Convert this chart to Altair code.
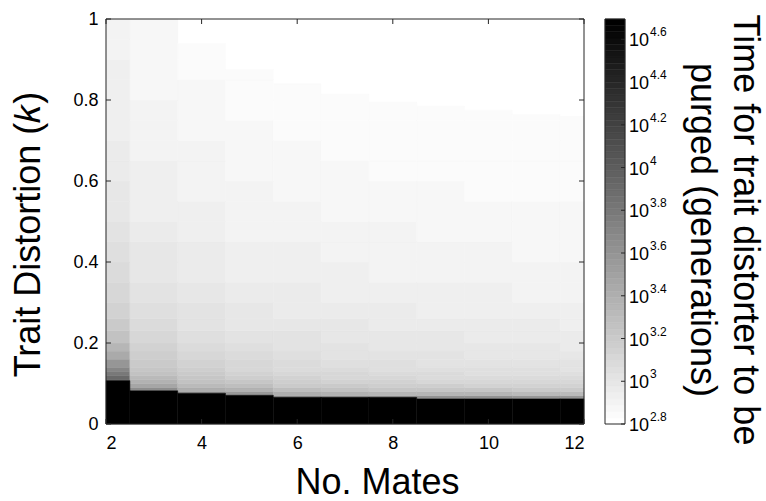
import altair as alt
import pandas as pd
import numpy as np

# ---------------- data ----------------
mates = [2, 3, 4, 5, 6, 7, 8, 9, 10, 11, 12]

# shared k grid (row edges) used for the shaded part of each column
k_edges = [0.06, 0.07, 0.08, 0.09, 0.10, 0.11, 0.12, 0.13, 0.14, 0.16, 0.18,
           0.20, 0.23, 0.26, 0.30, 0.35, 0.40, 0.45, 0.50, 0.55, 0.60, 0.65,
           0.70, 0.75, 0.80, 0.85, 0.90, 0.95, 1.00]

# k below which the distorter is never purged (black)
black_k = [0.107, 0.082, 0.076, 0.071, 0.066, 0.066, 0.066, 0.062, 0.062, 0.062, 0.062]
# k above which the time is at the bottom of the colour range (white)
white_k = [1.00, 1.00, 0.94, 0.876, 0.84, 0.815, 0.795, 0.785, 0.775, 0.765, 0.76]

N = None
# log10(time in generations) for each row of k_edges, per number of mates
log_time = [
    [N, N, N, N, 4.05, 3.92, 3.80, 3.70, 3.57, 3.44, 3.35, 3.27, 3.20, 3.15, 3.105, 3.07,
     3.04, 3.015, 2.995, 2.98, 2.968, 2.957, 2.947, 2.938, 2.93, 2.923, 2.917, 2.911],
    [N, N, 3.65, 3.47, 3.37, 3.31, 3.27, 3.24, 3.20, 3.16, 3.13, 3.10, 3.075, 3.05, 3.025, 3.0,
     2.98, 2.962, 2.947, 2.934, 2.922, 2.912, 2.903, 2.894, 2.886, 2.879, 2.872, 2.866],
    [N, 3.60, 3.42, 3.32, 3.26, 3.22, 3.19, 3.16, 3.13, 3.10, 3.075, 3.05, 3.03, 3.01, 2.988, 2.968,
     2.95, 2.935, 2.922, 2.91, 2.899, 2.889, 2.88, 2.872, 2.864, 2.856, 2.848, N],
    [N, 3.55, 3.38, 3.28, 3.22, 3.18, 3.15, 3.125, 3.10, 3.07, 3.047, 3.027, 3.007, 2.988, 2.967, 2.948,
     2.932, 2.918, 2.905, 2.894, 2.884, 2.875, 2.866, 2.858, 2.85, 2.843, N, N],
    [3.60, 3.40, 3.28, 3.21, 3.17, 3.14, 3.115, 3.095, 3.073, 3.05, 3.03, 3.012, 2.993, 2.974, 2.954, 2.936,
     2.92, 2.906, 2.894, 2.883, 2.873, 2.864, 2.856, 2.848, 2.841, N, N, N],
    [3.58, 3.38, 3.26, 3.19, 3.15, 3.12, 3.097, 3.078, 3.057, 3.035, 3.016, 2.999, 2.981, 2.962, 2.943, 2.925,
     2.91, 2.897, 2.885, 2.874, 2.864, 2.856, 2.848, 2.841, 2.836, N, N, N],
    [3.57, 3.36, 3.24, 3.175, 3.135, 3.105, 3.083, 3.064, 3.044, 3.022, 3.004, 2.988, 2.97, 2.952, 2.934, 2.917,
     2.902, 2.889, 2.877, 2.867, 2.858, 2.85, 2.843, 2.837, N, N, N, N],
    [3.62, 3.35, 3.23, 3.165, 3.125, 3.095, 3.072, 3.053, 3.033, 3.012, 2.994, 2.979, 2.962, 2.944, 2.926, 2.91,
     2.895, 2.883, 2.872, 2.862, 2.853, 2.846, 2.84, 2.835, N, N, N, N],
    [3.60, 3.34, 3.22, 3.155, 3.115, 3.086, 3.063, 3.045, 3.025, 3.004, 2.987, 2.972, 2.955, 2.938, 2.92, 2.904,
     2.89, 2.878, 2.867, 2.858, 2.849, 2.842, 2.837, 2.833, N, N, N, N],
    [3.58, 3.33, 3.21, 3.145, 3.106, 3.078, 3.055, 3.037, 3.018, 2.997, 2.98, 2.965, 2.949, 2.932, 2.915, 2.899,
     2.886, 2.874, 2.864, 2.855, 2.847, 2.84, 2.835, 2.832, N, N, N, N],
    [3.57, 3.32, 3.20, 3.137, 3.098, 3.07, 3.048, 3.03, 3.011, 2.991, 2.974, 2.96, 2.944, 2.927, 2.91, 2.895,
     2.882, 2.87, 2.86, 2.852, 2.845, 2.838, 2.834, 2.831, N, N, N, N],
]

x_ticks = [2, 4, 6, 8, 10, 12]
y_ticks = [0, 0.2, 0.4, 0.6, 0.8, 1.0]
cbar_ticks = [2.8, 3.0, 3.2, 3.4, 3.6, 3.8, 4.0, 4.2, 4.4, 4.6]
cbar_exp = ["2.8", "3", "3.2", "3.4", "3.6", "3.8", "4", "4.2", "4.4", "4.6"]
C_MIN, C_MAX = 2.8, 4.695
N_LEVELS = 64

# ---------------- tables ----------------
X_MIN, X_MAX = 2, 12
cells, blacks = [], []
for j, m in enumerate(mates):
    x0, x1 = max(m - 0.5, X_MIN), min(m + 0.5, X_MAX)
    blacks.append({"x0": x0, "x1": x1, "k0": 0.0, "k1": black_k[j]})
    for i in range(len(k_edges) - 1):
        v = log_time[j][i]
        lo = max(k_edges[i], black_k[j])
        hi = min(k_edges[i + 1], white_k[j])
        if v is None or hi <= lo:
            continue
        cells.append({"x0": x0, "x1": x1, "k0": lo, "k1": hi, "v": v})
cells = pd.DataFrame(cells)
blacks = pd.DataFrame(blacks)

edges = np.linspace(C_MIN, C_MAX, N_LEVELS + 1)
cb = pd.DataFrame({"lo": edges[:-1], "hi": edges[1:], "mid": (edges[:-1] + edges[1:]) / 2})
cbt = pd.DataFrame({"t": cbar_ticks, "e": cbar_exp})

# ---------------- styling ----------------
FONT = "Liberation Sans"
AX = "#262626"
W, H = 478, 405
CBW = 20

grays = [int(round(255 * (N_LEVELS - 1 - n) / (N_LEVELS - 1))) for n in range(N_LEVELS)]
gray_range = ["#%02x%02x%02x" % (g, g, g) for g in grays]
cscale = alt.Scale(type="quantize", domain=[C_MIN, C_MAX], range=gray_range, nice=False)

xs = alt.Scale(domain=[X_MIN, X_MAX], nice=False, zero=False)
ys = alt.Scale(domain=[0, 1], nice=False, zero=False)

x_axis = alt.Axis(values=x_ticks, format="d", ticks=False, tickSize=0, domain=False, grid=False,
                  labelFont=FONT, labelFontSize=18, labelColor="#000", labelPadding=10,
                  title="No. Mates", titleFont=FONT, titleFontSize=36, titleFontWeight="normal",
                  titleColor="#000", titleX=271, titleY=69, titleAlign="center",
                  titleBaseline="alphabetic")
y_axis = alt.Axis(values=y_ticks, format=".1~f", ticks=False, tickSize=0, domain=False, grid=False,
                  labelFont=FONT, labelFontSize=18, labelColor="#000", labelPadding=8,
                  title="Trait Distortion (𝑘)", titleFont=FONT, titleFontSize=36,
                  titleFontWeight="normal", titleColor="#000", titleAngle=270,
                  titleX=-67, titleY=215, titleAlign="center", titleBaseline="alphabetic")

heat = alt.Chart(cells).mark_rect(strokeWidth=0.5).encode(
    x=alt.X("x0:Q", scale=xs, axis=x_axis), x2="x1:Q",
    y=alt.Y("k0:Q", scale=ys, axis=y_axis), y2="k1:Q",
    color=alt.Color("v:Q", scale=cscale, legend=None),
    stroke=alt.Stroke("v:Q", scale=cscale, legend=None),
)
black = alt.Chart(blacks).mark_rect(color="#000", stroke="#000", strokeWidth=0.5).encode(
    x=alt.X("x0:Q", scale=xs, axis=x_axis), x2="x1:Q",
    y=alt.Y("k0:Q", scale=ys, axis=y_axis), y2="k1:Q",
)
xt = pd.DataFrame({"t": x_ticks})
yt = pd.DataFrame({"t": y_ticks})
tick_b = alt.Chart(xt).mark_rule(color=AX, strokeWidth=1).encode(
    x=alt.X("t:Q", scale=xs, axis=x_axis), y=alt.value(H), y2=alt.value(H - 5))
tick_t = alt.Chart(xt).mark_rule(color=AX, strokeWidth=1).encode(
    x=alt.X("t:Q", scale=xs, axis=x_axis), y=alt.value(0), y2=alt.value(5))
tick_l = alt.Chart(yt).mark_rule(color=AX, strokeWidth=1).encode(
    y=alt.Y("t:Q", scale=ys, axis=y_axis), x=alt.value(0), x2=alt.value(5))
tick_r = alt.Chart(yt).mark_rule(color=AX, strokeWidth=1).encode(
    y=alt.Y("t:Q", scale=ys, axis=y_axis), x=alt.value(W - 5), x2=alt.value(W))
frame = alt.Chart(pd.DataFrame({"a": [0]})).mark_rect(fillOpacity=0, stroke=AX, strokeWidth=1).encode(
    x=alt.value(0), x2=alt.value(W), y=alt.value(0), y2=alt.value(H))

main = alt.layer(heat, black, tick_b, tick_t, tick_l, tick_r, frame).properties(width=W, height=H)

# ---------------- colour bar ----------------
cys = alt.Scale(domain=[C_MIN, C_MAX], nice=False, zero=False)
cb_rect = alt.Chart(cb).mark_rect(strokeWidth=0.5).encode(
    y=alt.Y("lo:Q", scale=cys, axis=None), y2="hi:Q",
    x=alt.value(0), x2=alt.value(CBW),
    color=alt.Color("mid:Q", scale=cscale, legend=None),
    stroke=alt.Stroke("mid:Q", scale=cscale, legend=None),
)
cb_tick = alt.Chart(cbt).mark_rule(color=AX, strokeWidth=1).encode(
    y=alt.Y("t:Q", scale=cys, axis=None), x=alt.value(CBW - 4), x2=alt.value(CBW))
cb_ten = alt.Chart(cbt).mark_text(align="left", baseline="middle", font=FONT, fontSize=18,
                                  color="#000", dy=2).encode(
    y=alt.Y("t:Q", scale=cys, axis=None), x=alt.value(24), text=alt.value("10"))
cb_exp = alt.Chart(cbt).mark_text(align="left", baseline="middle", font=FONT, fontSize=12,
                                  color="#000", dy=-7).encode(
    y=alt.Y("t:Q", scale=cys, axis=None), x=alt.value(45), text="e:N")
cb_frame = alt.Chart(pd.DataFrame({"a": [0]})).mark_rect(fillOpacity=0, stroke=AX, strokeWidth=1).encode(
    x=alt.value(0), x2=alt.value(CBW), y=alt.value(0), y2=alt.value(H))
cb_title = alt.Chart(pd.DataFrame({"s": ["Time for trait distorter to be\npurged (generations)"]})).mark_text(
    angle=90, align="center", baseline="alphabetic", font=FONT, fontSize=36, lineHeight=43,
    lineBreak="\n", color="#000").encode(
    x=alt.value(129), y=alt.value(211), text="s:N")

cbar = alt.layer(cb_rect, cb_tick, cb_frame, cb_ten, cb_exp, cb_title).properties(width=CBW, height=H)

chart = alt.hconcat(main, cbar, spacing=21, bounds="flush").properties(
    padding={"left": 10, "top": 10, "right": 0, "bottom": 0}
).configure_view(stroke=None)

chart.save("out.html", embed_options={"renderer": "svg", "actions": False})
